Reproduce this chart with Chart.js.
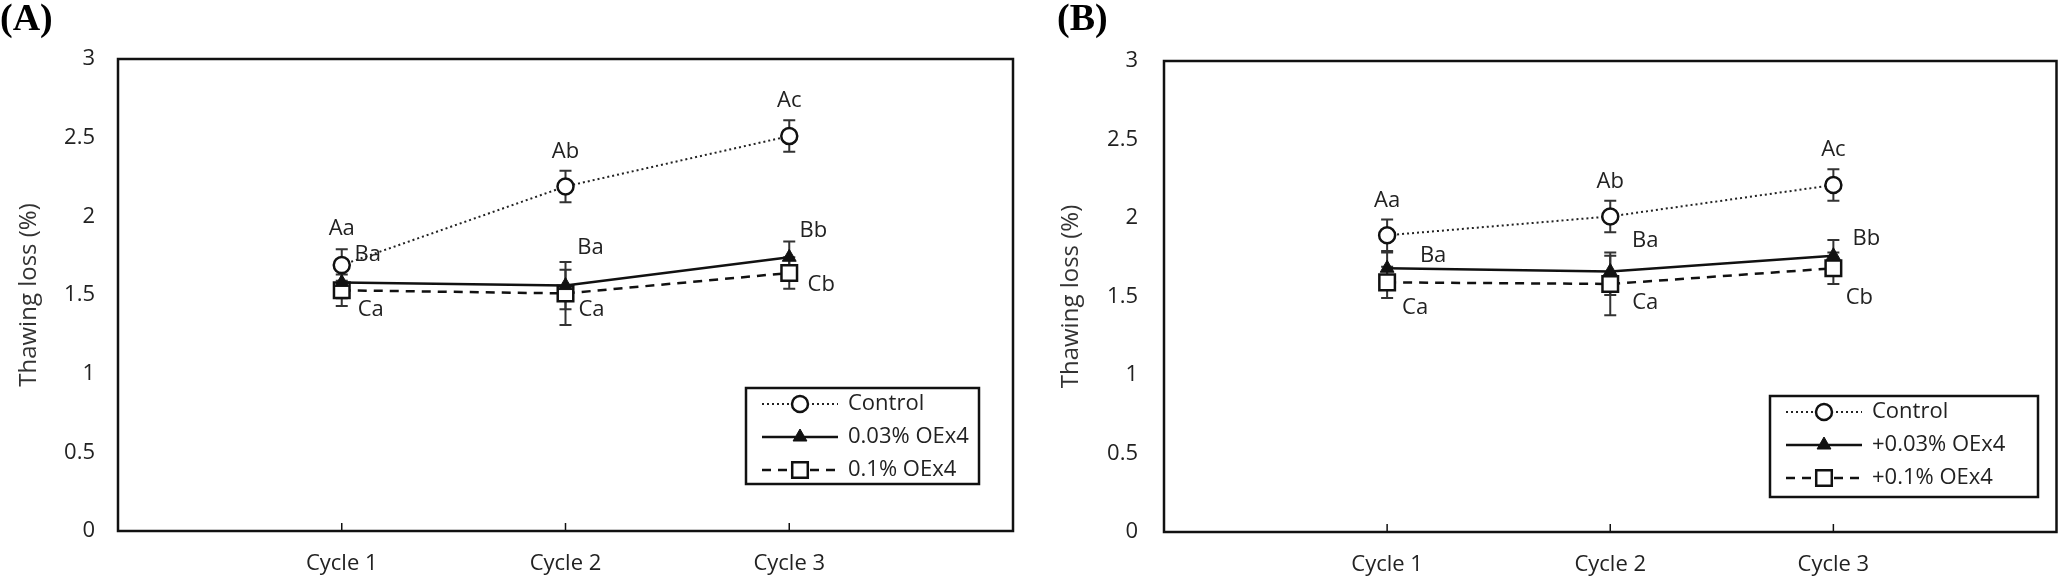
<!DOCTYPE html>
<html>
<head>
<meta charset="utf-8">
<script src="https://cdn.jsdelivr.net/npm/chart.js@4.4.1/dist/chart.umd.min.js"></script>
<style>
body { margin: 0; background: #fff; width: 2070px; height: 584px; position: relative; overflow: hidden; }
canvas { position: absolute; top: 0; }
#chartA { left: 0; }
#chartB { left: 1035px; }
</style>
</head>
<body>
<canvas id="chartA" width="1035" height="584"></canvas>
<canvas id="chartB" width="1035" height="584"></canvas>
<script>
const categories = ['Cycle 1', 'Cycle 2', 'Cycle 3'];
const yTicks = [0, 0.5, 1, 1.5, 2, 2.5, 3];

// panel A
const aControl = [1.69, 2.19, 2.51];
const aControlErr = [0.1, 0.1, 0.1];
const aLow = [1.58, 1.56, 1.74];
const aLowErrUp = [0.1, 0.1, 0.1];
const aLowErrDown = [0.1, 0.15, 0.1];
const aHigh = [1.53, 1.51, 1.64];
const aHighErr = [0.1, 0.2, 0.1];
const aNames = ['Control', '0.03% OEx4', '0.1% OEx4'];

// panel B
const bControl = [1.89, 2.01, 2.21];
const bControlErr = [0.1, 0.1, 0.1];
const bLow = [1.68, 1.66, 1.76];
const bLowErrUp = [0.1, 0.1, 0.1];
const bLowErrDown = [0.1, 0.15, 0.1];
const bHigh = [1.59, 1.58, 1.68];
const bHighErr = [0.1, 0.2, 0.1];
const bNames = ['Control', '+0.03% OEx4', '+0.1% OEx4'];

// significance letters (same in both panels)
const controlLetters = ['Aa', 'Ab', 'Ac'];
const lowLetters = ['Ba', 'Ba', 'Bb'];
const highLetters = ['Ca', 'Ca', 'Cb'];

const FONT = "'Open Sans', sans-serif";
const INK = '#111';

const pts = vals => vals.map((v, i) => ({ x: i + 1, y: v }));

function seriesSet(names, ctrl, ctrlErr, low, lowUp, lowDown, high, highErr, offs) {
    return [
        { label: names[0], data: pts(ctrl), errUp: ctrlErr, errDown: ctrlErr, letters: controlLetters, letterOff: offs[0],
          borderColor: '#222', borderWidth: 2, borderDash: [2, 3], pointStyle: 'circle', pointRadius: 8,
          pointBackgroundColor: '#fff', pointBorderColor: INK, pointBorderWidth: 2.5 },
        { label: names[1], data: pts(low), errUp: lowUp, errDown: lowDown, letters: lowLetters, letterOff: offs[1],
          borderColor: INK, borderWidth: 2.5, pointStyle: 'triangle', pointRadius: 8,
          pointBackgroundColor: INK, pointBorderColor: INK, pointBorderWidth: 1 },
        { label: names[2], data: pts(high), errUp: highErr, errDown: highErr, letters: highLetters, letterOff: offs[2],
          borderColor: INK, borderWidth: 2.5, borderDash: [9, 7], pointStyle: 'rect', pointRadius: 11,
          pointBackgroundColor: '#fff', pointBorderColor: INK, pointBorderWidth: 2.5 }
    ];
}

const decor = {
    id: 'decor',
    beforeDatasetsDraw(chart) {
        const { ctx } = chart;
        const y = chart.scales.y;
        ctx.save();
        ctx.strokeStyle = '#333';
        ctx.lineWidth = 2;
        chart.data.datasets.forEach((ds, di) => {
            chart.getDatasetMeta(di).data.forEach((pt, i) => {
                const v = ds.data[i].y;
                const top = y.getPixelForValue(v + ds.errUp[i]);
                const bot = y.getPixelForValue(v - ds.errDown[i]);
                ctx.beginPath();
                ctx.moveTo(pt.x, top); ctx.lineTo(pt.x, bot);
                ctx.moveTo(pt.x - 6, top); ctx.lineTo(pt.x + 6, top);
                ctx.moveTo(pt.x - 6, bot); ctx.lineTo(pt.x + 6, bot);
                ctx.stroke();
            });
        });
        ctx.restore();
    },
    afterDraw(chart, args, o) {
        const { ctx, chartArea: a } = chart;
        const x = chart.scales.x;
        ctx.save();
        // frame
        ctx.strokeStyle = INK;
        ctx.lineWidth = 2.5;
        ctx.strokeRect(a.left, a.top, a.right - a.left, a.bottom - a.top);
        ctx.lineWidth = 1.5;
        categories.forEach((c, i) => {
            const px = x.getPixelForValue(i + 1);
            ctx.beginPath(); ctx.moveTo(px, a.bottom); ctx.lineTo(px, a.bottom - 8); ctx.stroke();
        });
        // letters
        ctx.fillStyle = '#222';
        ctx.font = '22px ' + FONT;
        ctx.textAlign = 'center';
        ctx.textBaseline = 'middle';
        chart.data.datasets.forEach((ds, di) => {
            chart.getDatasetMeta(di).data.forEach((pt, i) => {
                const [dx, dy] = ds.letterOff[i];
                ctx.fillText(ds.letters[i], pt.x + dx, pt.y + dy);
            });
        });
        // legend
        const L = o.legend;
        ctx.lineWidth = 2.5;
        ctx.strokeStyle = INK;
        ctx.strokeRect(L.x, L.y, L.w, L.h);
        ctx.textAlign = 'left';
        chart.data.datasets.forEach((ds, di) => {
            const ry = L.y + 16 + di * 33;
            ctx.save();
            ctx.strokeStyle = ds.borderColor;
            ctx.lineWidth = ds.borderWidth;
            ctx.setLineDash(ds.borderDash || []);
            ctx.beginPath(); ctx.moveTo(L.x + 16, ry); ctx.lineTo(L.x + 92, ry); ctx.stroke();
            ctx.restore();
            ctx.save();
            ctx.fillStyle = ds.pointBackgroundColor;
            ctx.strokeStyle = ds.pointBorderColor;
            ctx.lineWidth = ds.pointBorderWidth;
            Chart.helpers.drawPoint(ctx, { pointStyle: ds.pointStyle, radius: ds.pointRadius, borderWidth: ds.pointBorderWidth, rotation: 0 }, L.x + 54, ry);
            ctx.restore();
            ctx.fillStyle = '#222';
            ctx.font = '22px ' + FONT;
            ctx.fillText(ds.label, L.x + 102, ry);
        });
        // panel tag
        ctx.fillStyle = '#000';
        ctx.font = 'bold 38px "Liberation Serif"';
        ctx.textAlign = 'left';
        ctx.textBaseline = 'alphabetic';
        ctx.fillText(o.tag, o.tagX, 30);
        ctx.restore();
    }
};

function makeChart(id, datasets, lay) {
    return new Chart(document.getElementById(id), {
        type: 'line',
        data: { datasets },
        options: {
            responsive: false,
            animation: false,
            layout: { padding: { left: 0, top: lay.top, right: lay.right, bottom: 0 } },
            plugins: {
                legend: { display: false },
                tooltip: { enabled: false },
                decor: { legend: lay.legend, tag: lay.tag, tagX: lay.tagX }
            },
            scales: {
                x: {
                    type: 'linear', min: 0, max: 4,
                    afterFit: s => { s.height = lay.bottom; },
                    afterBuildTicks: s => { s.ticks = categories.map((c, i) => ({ value: i + 1 })); },
                    ticks: { callback: v => categories[v - 1] || '', font: { family: FONT, size: 22 }, color: '#222', padding: 20, maxRotation: 0, autoSkip: false },
                    grid: { display: false, drawTicks: false },
                    border: { display: false }
                },
                y: {
                    min: 0, max: 3,
                    afterFit: s => { s.width = lay.left; },
                    afterBuildTicks: s => { s.ticks = yTicks.map(v => ({ value: v })); },
                    ticks: { callback: v => String(v), font: { family: FONT, size: 22 }, color: '#222', padding: lay.tickPad },
                    grid: { display: false, drawTicks: false },
                    border: { display: false },
                    title: { display: true, text: 'Thawing loss (%)', font: { family: FONT, size: 24 }, color: '#333', padding: { top: lay.titlePad, bottom: 0 } }
                }
            }
        },
        plugins: [decor]
    });
}

makeChart('chartA',
    seriesSet(aNames, aControl, aControlErr, aLow, aLowErrUp, aLowErrDown, aHigh, aHighErr, [
        [[0, -36], [0, -35], [0, -35]],
        [[26, -28], [25, -38], [24, -27]],
        [[29, 19], [26, 16], [32, 12]]
    ]),
    { left: 118, top: 59, right: 22, bottom: 53, tickPad: 23, titlePad: 15, tag: '(A)', tagX: 0,
      legend: { x: 746, y: 388, w: 233, h: 96 } });

makeChart('chartB',
    seriesSet(bNames, bControl, bControlErr, bLow, bLowErrUp, bLowErrDown, bHigh, bHighErr, [
        [[0, -35], [0, -35], [0, -35]],
        [[46, -13], [35, -31], [33, -17]],
        [[28, 25], [35, 19], [26, 29]]
    ]),
    { left: 129, top: 61, right: 11, bottom: 52, tickPad: 26, titlePad: 22, tag: '(B)', tagX: 22,
      legend: { x: 735, y: 396, w: 268, h: 101 } });
</script>
</body>
</html>
